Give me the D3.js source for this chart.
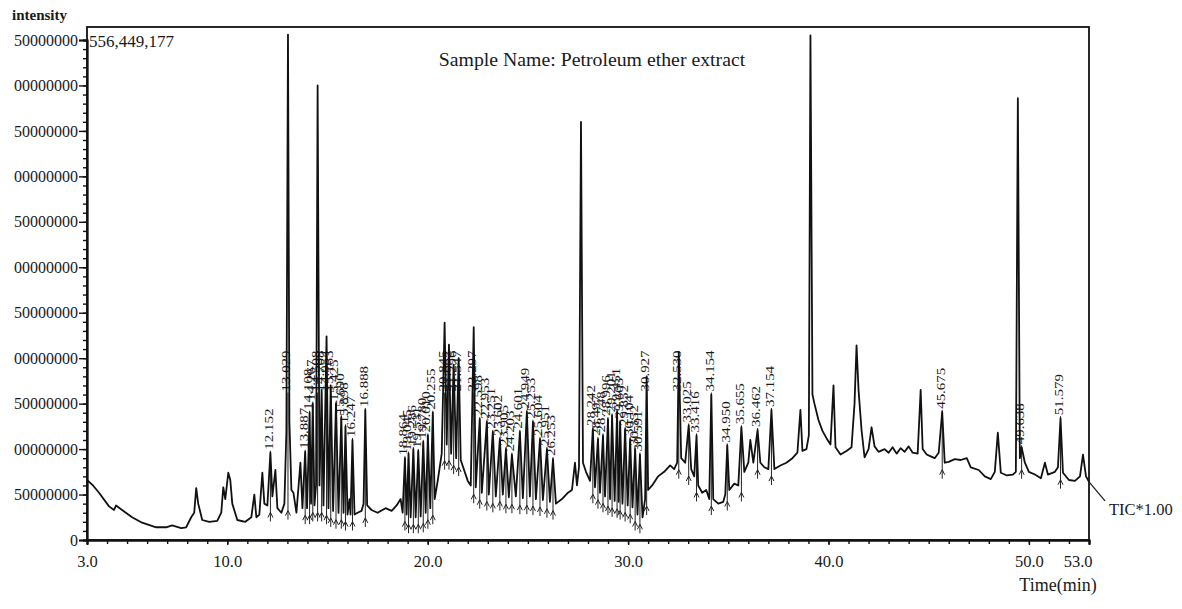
<!DOCTYPE html>
<html>
<head>
<meta charset="utf-8">
<script src="https://cdn.jsdelivr.net/npm/d3@7"></script>
<style>
  html, body { margin: 0; padding: 0; background: #fff; }
  svg { display: block; }
  text { font-family: "Liberation Serif", "Times New Roman", serif; fill: #1a1a1a; }
</style>
</head>
<body>
<svg id="chart" width="1182" height="609"></svg>
<script>
// ---- data (intensity in millions of counts) ----
const retentionTime = [3.0,3.3,3.6,4.1,4.35,4.45,4.75,5.25,5.75,6.45,6.95,7.25,7.7,7.95,8.2,8.35,8.45,8.55,8.75,9.1,9.5,9.7,9.8,9.9,10.05,10.15,10.25,10.5,10.9,11.2,11.35,11.45,11.6,11.75,11.85,12.0,12.152,12.25,12.4,12.5,12.7,12.85,12.95,13.029,13.1,13.2,13.3,13.45,13.65,13.75,13.887,13.98,14.108,14.18,14.267,14.35,14.43,14.508,14.6,14.708,14.8,14.954,15.05,15.163,15.28,15.425,15.55,15.690,15.8,15.898,16.0,16.1,16.15,16.247,16.35,16.5,16.7,16.8,16.888,16.98,17.2,17.5,17.9,18.2,18.45,18.65,18.75,18.864,18.95,19.045,19.15,19.286,19.4,19.531,19.65,19.780,19.9,20.010,20.13,20.255,20.35,20.5,20.6,20.7,20.845,20.95,21.062,21.17,21.296,21.42,21.547,21.65,21.8,22.0,22.15,22.297,22.4,22.598,22.7,22.953,23.05,23.251,23.4,23.602,23.75,23.905,24.05,24.203,24.4,24.601,24.75,24.949,25.1,25.253,25.4,25.604,25.75,25.951,26.1,26.253,26.4,26.7,27.0,27.2,27.35,27.45,27.55,27.65,27.75,27.9,28.1,28.242,28.35,28.497,28.6,28.748,28.85,28.996,29.1,29.201,29.33,29.451,29.53,29.603,29.72,29.852,29.98,30.104,30.22,30.352,30.47,30.591,30.72,30.85,30.927,31.0,31.2,31.5,31.8,32.1,32.3,32.45,32.530,32.65,32.85,33.025,33.15,33.3,33.416,33.5,33.7,33.9,34.05,34.154,34.25,34.5,34.75,34.85,34.950,35.05,35.3,35.5,35.655,35.8,36.0,36.1,36.25,36.462,36.6,36.8,37.0,37.154,37.3,37.6,37.9,38.2,38.45,38.6,38.7,38.9,39.02,39.1,39.2,39.3,39.5,39.7,39.9,40.1,40.25,40.35,40.6,40.9,41.15,41.3,41.4,41.5,41.65,41.8,42.0,42.15,42.3,42.5,42.8,43.0,43.2,43.4,43.6,43.8,44.0,44.2,44.45,44.6,44.7,44.9,45.1,45.3,45.5,45.675,45.8,46.0,46.3,46.6,46.9,47.1,47.5,47.8,48.1,48.3,48.45,48.6,48.9,49.2,49.35,49.45,49.55,49.638,49.8,50.0,50.3,50.6,50.8,50.95,51.3,51.45,51.579,51.7,52.0,52.3,52.55,52.7,52.85,53.0];
const intensityM = [66,60,52,37,33,38,33,25,19,14,14,16,13,14,25,30,57,40,22,20,21,30,58,45,74,66,40,22,20,25,50,25,28,74,40,38,96,48,77,35,30,40,120,556,130,55,52,30,85,35,97,35,140,40,150,38,60,500,60,165,38,224,35,170,32,150,30,135,30,125,28,45,28,110,28,30,32,40,143,38,33,30,35,32,38,45,30,90,28,95,25,100,25,98,26,108,30,115,35,140,45,65,80,95,239,105,215,95,193,90,200,88,78,65,60,234,58,133,52,130,50,119,48,111,50,100,47,94,48,119,46,141,48,130,45,111,44,100,42,89,40,45,52,55,85,60,80,460,85,75,65,122,58,111,52,115,48,133,45,137,43,141,42,130,40,122,38,111,36,100,28,94,25,45,180,55,60,70,75,82,78,85,207,90,85,126,78,70,115,60,52,55,45,160,45,40,42,50,104,55,62,60,124,75,85,110,85,121,85,80,78,143,78,82,85,90,96,143,98,100,115,555,160,150,132,120,112,105,170,102,94,98,102,150,214,165,121,91,100,124,103,97,100,96,102,95,101,97,103,96,95,165,100,94,92,90,96,141,85,86,89,88,90,80,77,70,67,75,118,74,71,72,75,486,90,102,85,75,72,68,85,72,75,80,134,74,66,65,70,94,70,64];

const peakTimes = [12.152,13.029,13.887,14.108,14.267,14.508,14.708,14.954,15.163,15.425,15.690,15.898,16.247,16.888,18.864,19.045,19.286,19.531,19.780,20.010,20.255,20.845,21.062,21.296,21.547,22.297,22.598,22.953,23.251,23.602,23.905,24.203,24.601,24.949,25.253,25.604,25.951,26.253,28.242,28.497,28.748,28.996,29.201,29.451,29.603,29.852,30.104,30.352,30.591,30.927,32.530,33.025,33.416,34.154,34.950,35.655,36.462,37.154,45.675,49.638,51.579];
const peakLabels = ["12.152","13.029","13.887","14.108","14.267","14.508","14.708","14.954","15.163","15.425","15.690","15.898","16.247","16.888","18.864","19.045","19.286","19.531","19.780","20.010","20.255","20.845","21.062","21.296","21.547","22.297","22.598","22.953","23.251","23.602","23.905","24.203","24.601","24.949","25.253","25.604","25.951","26.253","28.242","28.497","28.748","28.996","29.201","29.451","29.603","29.852","30.104","30.352","30.591","30.927","32.530","33.025","33.416","34.154","34.950","35.655","36.462","37.154","45.675","49.638","51.579"];

const yTickValues = [0,50,100,150,200,250,300,350,400,450,500,550];
const yTickLabels = ["0","50000000","100000000","150000000","200000000","250000000","300000000","350000000","400000000","450000000","500000000","550000000"];
const xTickValues = [3,10,20,30,40,50,53];
const xTickLabels = ["3.0","10.0","20.0","30.0","40.0","50.0","53.0"];

const titleText = "Sample Name: Petroleum ether extract";
const maxIntensityText = "556,449,177";
const yAxisTitle = "intensity";
const xAxisTitle = "Time(min)";
const traceName = "TIC*1.00";

// ---- drawing ----
const svg = d3.select("#chart");
const pL = 87, pR = 1089, pT = 27, pB = 540;
const x = d3.scaleLinear().domain([3, 53]).range([pL, pR]);
const y = d3.scaleLinear().domain([0, 550]).range([pB, 40]);

const defs = svg.append("defs");
defs.append("clipPath").attr("id", "ylabclip")
  .append("rect").attr("x", 14).attr("y", 0).attr("width", 200).attr("height", 609);

// frame
svg.append("rect").attr("x", pL).attr("y", pT).attr("width", pR - pL).attr("height", pB - pT)
  .attr("fill", "none").attr("stroke", "#111").attr("stroke-width", 1.8);

// y axis (labels clipped at the left page edge like the cropped original)
const yWrap = svg.append("g").attr("clip-path", "url(#ylabclip)");
const yMinor = yWrap.append("g").attr("transform", `translate(${pL},0)`)
  .call(d3.axisLeft(y).tickValues(d3.range(0, 551, 10)).tickSize(4).tickFormat(""));
const yMajor = yWrap.append("g").attr("transform", `translate(${pL},0)`)
  .call(d3.axisLeft(y).tickValues(yTickValues).tickSize(8).tickPadding(1)
    .tickFormat((d, i) => yTickLabels[i]));
yMajor.selectAll("text").attr("font-size", 16).attr("fill", "#222")
  .style("font-family", '"Liberation Serif", serif');
[yMinor, yMajor].forEach(g => {
  g.select(".domain").attr("stroke", "#111").attr("stroke-width", 1.8);
  g.selectAll(".tick line").attr("stroke", "#111").attr("stroke-width", 1.4);
});

// x axis
const xMinor = svg.append("g").attr("transform", `translate(0,${pB})`)
  .call(d3.axisBottom(x).tickValues(d3.range(3, 53.01, 1)).tickSize(4).tickFormat(""));
const xMajor = svg.append("g").attr("transform", `translate(0,${pB})`)
  .call(d3.axisBottom(x).tickValues(xTickValues).tickSize(5).tickPadding(10)
    .tickFormat((d, i) => xTickLabels[i]));
xMajor.selectAll("text").attr("font-size", 16.5).attr("fill", "#222")
  .style("font-family", '"Liberation Serif", serif');
xMajor.selectAll(".tick").filter(d => d === 53).select("text")
  .attr("text-anchor", "end").attr("dx", 3);
[xMinor, xMajor].forEach(g => {
  g.select(".domain").attr("stroke", "#111").attr("stroke-width", 1.8);
  g.selectAll(".tick line").attr("stroke", "#111").attr("stroke-width", 1.4);
});

// peak markers and labels
const n = Math.min(retentionTime.length, intensityM.length);
const pts = retentionTime.slice(0, n).map((t, i) => ({ t, v: intensityM[i] }));
const markers = svg.append("g");
peakTimes.forEach((t, i) => {
  const idx = retentionTime.indexOf(t);
  const apex = idx >= 0 && idx < n ? intensityM[idx] : 100;
  const near = pts.filter(p => Math.abs(p.t - t) <= 0.2);
  const base = near.length ? d3.min(near, p => p.v) : 40;
  const labV = Math.min(apex, 160);
  const px = x(t);
  const yb = Math.min(y(base) + 16, pB - 2);
  markers.append("line")
    .attr("x1", px).attr("x2", px)
    .attr("y1", y(labV) - 2).attr("y2", yb)
    .attr("stroke", "#222").attr("stroke-width", 1);
  markers.append("path")
    .attr("d", `M${px - 2.5},${yb - 4} L${px},${yb - 9} L${px + 2.5},${yb - 4}`)
    .attr("fill", "none").attr("stroke", "#222").attr("stroke-width", 1);
  markers.append("text")
    .attr("transform", `translate(${px + 2.5},${y(labV) - 3}) rotate(-90) scale(1.3,1)`)
    .attr("font-size", 11.5).attr("fill", "#222")
    .text(peakLabels[i]);
});

// trace
const line = d3.line().x(d => x(d.t)).y(d => y(d.v));
svg.append("path").datum(pts)
  .attr("d", line).attr("fill", "none")
  .attr("stroke", "#111").attr("stroke-width", 1.8).attr("stroke-linejoin", "round");

// TIC tag
const last = pts[pts.length - 1];
svg.append("line")
  .attr("x1", x(last.t)).attr("y1", y(last.v))
  .attr("x2", x(last.t) + 16).attr("y2", y(last.v) + 19)
  .attr("stroke", "#222").attr("stroke-width", 1.3);
svg.append("text").attr("x", x(last.t) + 20).attr("y", y(last.v) + 33)
  .attr("font-size", 16.5).text(traceName);

// texts
svg.append("text").attr("x", 12).attr("y", 20).attr("font-size", 15).attr("font-weight", "bold")
  .text(yAxisTitle);
svg.append("text").attr("x", 89).attr("y", 47).attr("font-size", 17).text(maxIntensityText);
svg.append("text").attr("x", 592).attr("y", 66).attr("text-anchor", "middle").attr("font-size", 19.8)
  .text(titleText);
svg.append("text").attr("x", 1058).attr("y", 591).attr("text-anchor", "middle").attr("font-size", 18)
  .text(xAxisTitle);
</script>
</body>
</html>
